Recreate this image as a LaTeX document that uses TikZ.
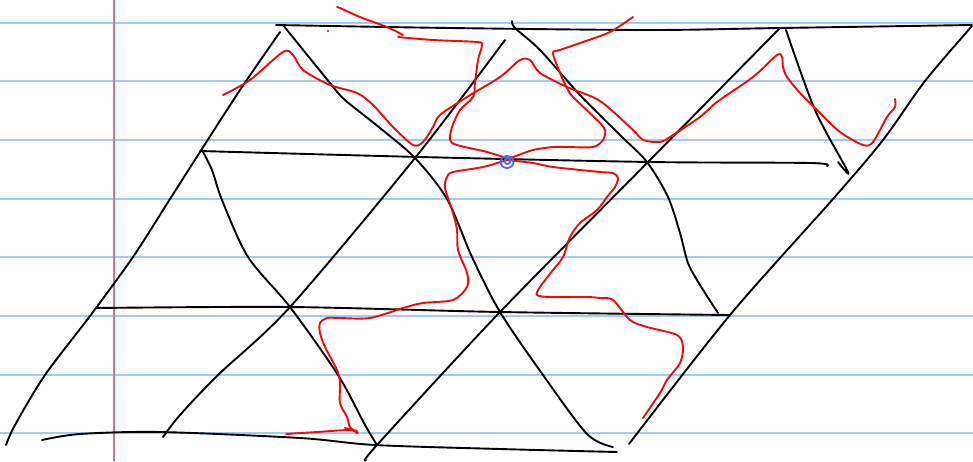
\documentclass[tikz,border=0pt]{standalone}
\begin{document}
\begin{tikzpicture}[x=1pt,y=-1pt,
  ruled/.style={draw=rulecol,line width=2.2pt},
  margin/.style={draw=margincol,line width=1.6pt},
  pen/.style={draw=black,line width=1.9pt,line cap=round,line join=round},
  redpen/.style={draw=inkred,line width=1.9pt,line cap=round,line join=round},
  bluepen/.style={draw=inkblue,line width=1.8pt}]
\definecolor{rulecol}{RGB}{160,202,250}
\definecolor{margincol}{RGB}{200,120,150}
\definecolor{inkred}{RGB}{240,10,10}
\definecolor{inkblue}{RGB}{70,110,240}
\useasboundingbox (0,0) rectangle (973,461);
\fill[white] (0,0) rectangle (973,461);
% ruled lines
\foreach \k in {0,...,7} {
  \draw[ruled] (0,{22.7+58.65*\k}) -- (973,{22.7+58.65*\k});
}
\draw[margin] (114,0) -- (114,461);
% black horizontals
\draw[pen] plot[smooth,tension=0.5] coordinates {(276,25) (450,28) (650,30) (780,28) (972,25)};
\draw[pen] plot[smooth,tension=0.5] coordinates {(200,151) (420,157) (650,162) (810,163) (827,166)};
\draw[pen] plot[smooth,tension=0.5] coordinates {(97,308) (290,307) (500,312) (729,315)};
\draw[pen] plot[smooth,tension=0.5] coordinates {(42,440) (80,434) (160,432) (300,438) (375,445) (500,449) (617,452)};
% black / diagonals
\draw[pen] plot[smooth,tension=0.5] coordinates {(6,445) (15,425) (45,375) (90,316) (133,257) (170,199) (200,152) (240,90) (280,32)};
\draw[pen] plot[smooth,tension=0.5] coordinates {(163,437) (180,415) (218,375) (290,307) (415,158) (505,40)};
\draw[pen] plot[smooth,tension=0.5] coordinates {(366,460) (377,445) (500,312) (648,162) (780,28)};
\draw[pen] plot[smooth,tension=0.5] coordinates {(629,444) (730,315) (833,199) (883,140) (925,81) (972,26)};
% black \ diagonals
\draw[pen] plot[smooth,tension=0.5] coordinates {(283,25) (330,83) (345,100) (380,128) (415,158) (447,199) (472,257) (500,312) (543,375) (587,434) (613,447)};
\draw[pen] plot[smooth,tension=0.5] coordinates {(202,150) (212,170) (222,200) (248,257) (290,307) (338,375) (365,425) (377,445)};
\draw[pen] plot[smooth,tension=0.5] coordinates {(512,21) (515,28) (540,50) (580,95) (620,135) (647,162) (668,197) (680,233) (688,263) (700,285) (718,313)};
\draw[pen] plot[smooth,tension=0.5] coordinates {(786,30) (815,110) (848,172) (838,162)};
% red strokes
\draw[redpen] plot[smooth,tension=0.5] coordinates {(223,95) (250,80) (283,52) (293,55) (303,70) (330,85) (357,93) (373,105) (393,127) (413,145) (423,142) (433,127) (440,115) (467,97) (500,77) (520,60) (530,60) (540,73) (567,87) (600,101) (633,130) (643,140) (660,142) (670,137) (700,117) (717,102) (753,77) (777,55) (782,57) (783,67) (787,77) (800,93) (820,113) (840,132) (863,145) (873,142) (887,117) (895,107) (895,99)};
\draw[redpen] plot[smooth,tension=0.5] coordinates {(337,7) (340,8) (360,17) (387,27) (403,35)};
\draw[redpen] plot[smooth,tension=0.5] coordinates {(398,37) (433,40) (477,42) (482,45) (478,60) (475,83) (473,97) (460,110) (452,127) (450,140) (457,145) (487,152) (507,158) (513,157) (533,150) (553,147) (567,147) (593,147) (603,140) (605,130) (597,120) (573,97) (567,88) (560,73) (553,53) (560,50) (583,42) (610,32) (633,17)};
\draw[redpen] plot[smooth,tension=0.5] coordinates {(507,160) (483,167) (453,172) (447,177) (445,188) (453,213) (457,230) (458,250) (467,273) (467,287) (453,300) (423,303) (403,308) (370,318) (340,318) (327,318) (320,323) (320,333) (325,347) (337,370) (340,383) (340,403) (347,417) (350,427) (357,433)};
\draw[redpen] plot[smooth,tension=0.5] coordinates {(286,434) (317,432) (350,430) (358,433)};
\draw[redpen] (345,428) -- (357,431);
\draw[redpen] plot[smooth,tension=0.5] coordinates {(507,160) (533,163) (553,167) (600,172) (613,173) (618,178) (615,187) (607,197) (597,210) (580,223) (570,237) (563,257) (553,270) (540,287) (537,295) (550,297) (587,297) (600,298) (613,300) (630,320) (647,327) (677,335) (683,347) (680,363) (667,380) (660,393) (643,418)};
\fill[inkred] (328,31) circle (1.1);
% blue mark
\draw[bluepen] (507,162) ellipse (6.5 and 6);
\draw[bluepen] (507.5,161) circle (3);
\end{tikzpicture}
\end{document}
